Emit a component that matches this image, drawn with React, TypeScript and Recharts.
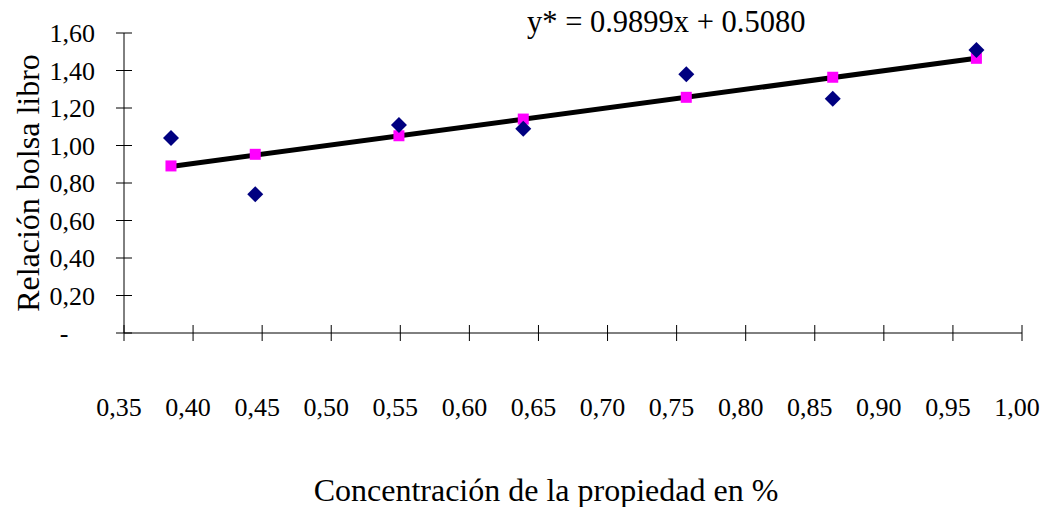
import { ComposedChart, Scatter, Line, XAxis, YAxis } from 'recharts';

// valores
const concentracion = [0.384, 0.445, 0.549, 0.639, 0.757, 0.863, 0.967];
const relacionBolsaLibro = [1.04, 0.74, 1.11, 1.09, 1.38, 1.25, 1.51];
const ajustado = [0.891, 0.953, 1.052, 1.141, 1.257, 1.364, 1.465];

// extremos de la recta de tendencia
const tendenciaX = [0.384, 0.967];
const tendenciaY = [0.888, 1.465];

const xTicks = [0.35, 0.4, 0.45, 0.5, 0.55, 0.6, 0.65, 0.7, 0.75, 0.8, 0.85, 0.9, 0.95, 1.0];
const yTicks = [0, 0.2, 0.4, 0.6, 0.8, 1.0, 1.2, 1.4, 1.6];

const ecuacion = 'y* = 0.9899x + 0.5080';
const tituloX = 'Concentración de la propiedad en %';
const tituloY = 'Relación bolsa libro';

const serif = { fontFamily: 'Liberation Serif' };

const puntos = concentracion.map((x, i) => ({ x, real: relacionBolsaLibro[i], ajuste: ajustado[i] }));
const tendencia = tendenciaX.map((x, i) => ({ x, y: tendenciaY[i] }));

const fmt = (v: number) => v.toFixed(2).replace('.', ',');

const XTick = ({ x, y, payload }: any) => (
  <g>
    <line x1={x} x2={x} y1={y - 8} y2={y + 8} stroke="#000" strokeWidth={1} />
    <text x={x - 5} y={y + 74} textAnchor="middle" dy="0.35em" style={serif} fontSize={26} fill="#000">
      {fmt(payload.value)}
    </text>
  </g>
);

const YTick = ({ x, y, payload }: any) => (
  <g>
    <line x1={x - 8} x2={x + 8} y1={y} y2={y} stroke="#000" strokeWidth={1} />
    {payload.value === 0 ? (
      <text x={64} y={y} textAnchor="middle" dy="0.35em" style={serif} fontSize={26} fill="#000">
        -
      </text>
    ) : (
      <text x={x - 29} y={y} textAnchor="end" dy="0.35em" style={serif} fontSize={26} fill="#000">
        {fmt(payload.value)}
      </text>
    )}
  </g>
);

const Diamond = ({ cx, cy }: any) => (
  <polygon
    points={`${cx},${cy - 8} ${cx + 8},${cy} ${cx},${cy + 8} ${cx - 8},${cy}`}
    fill="#000080"
  />
);

const Square = ({ cx, cy }: any) => (
  <rect x={cx - 5.5} y={cy - 5.5} width={11} height={11} fill="#FF00FF" />
);

export default function App() {
  return (
    <div style={{ position: 'absolute', left: 0, top: 0, width: 1044, height: 507, background: '#fff', fontFamily: 'Liberation Serif' }}>
      <ComposedChart
        width={1044}
        height={507}
        data={puntos}
        margin={{ top: 33, right: 22, bottom: 74, left: 24 }}
      >
        <XAxis
          dataKey="x"
          type="number"
          domain={[0.35, 1.0]}
          ticks={xTicks}
          interval={0}
          height={100}
          tickSize={0}
          tickMargin={0}
          tickLine={false}
          axisLine={{ stroke: '#000', strokeWidth: 1 }}
          tick={<XTick />}
        />
        <YAxis
          type="number"
          domain={[0, 1.6]}
          ticks={yTicks}
          interval={0}
          width={100}
          tickSize={0}
          tickMargin={0}
          tickLine={false}
          axisLine={{ stroke: '#000', strokeWidth: 1 }}
          tick={<YTick />}
        />
        <Scatter dataKey="ajuste" shape={<Square />} isAnimationActive={false} />
        <Line
          data={tendencia}
          dataKey="y"
          stroke="#000"
          strokeWidth={5}
          dot={false}
          activeDot={false}
          isAnimationActive={false}
        />
        <Scatter dataKey="real" shape={<Diamond />} isAnimationActive={false} />
        <text x={527} y={32} style={serif} fontSize={30.5} fill="#000">
          {ecuacion}
        </text>
        <text x={546} y={490} textAnchor="middle" dy="0.35em" style={serif} fontSize={32} fill="#000">
          {tituloX}
        </text>
        <text
          x={28}
          y={183}
          textAnchor="middle"
          dy="0.35em"
          transform="rotate(-90, 28, 183)"
          style={serif}
          fontSize={32}
          fill="#000"
        >
          {tituloY}
        </text>
      </ComposedChart>
    </div>
  );
}
